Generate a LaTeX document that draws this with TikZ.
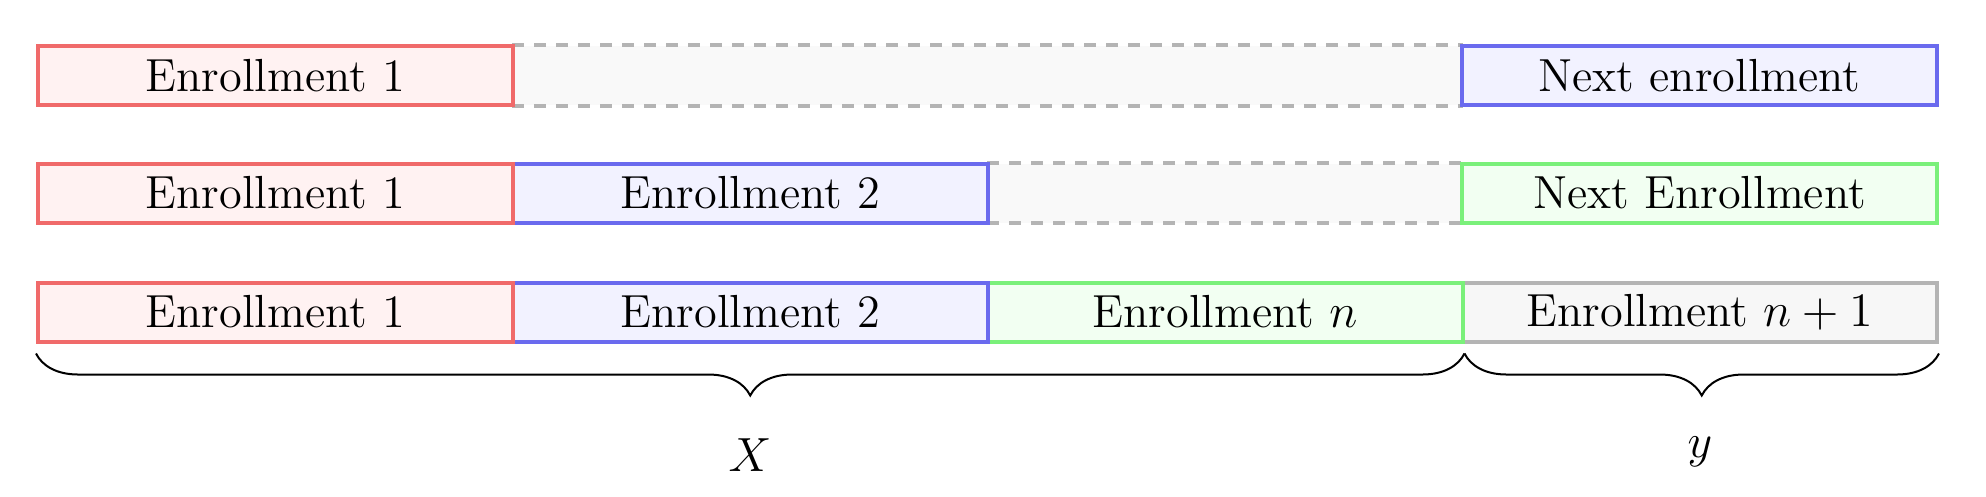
\documentclass[tikz,border=0pt]{standalone}
\usetikzlibrary{decorations.pathreplacing}
\definecolor{cred}{HTML}{F06A6A}
\definecolor{cblue}{HTML}{6A6AEE}
\definecolor{cgreen}{HTML}{7AF07A}
\definecolor{cgray}{HTML}{B4B4B4}
\begin{document}
\begin{tikzpicture}[x=0.25pt,y=-0.25pt,
  every node/.style={font=\fontsize{11.6}{14}\selectfont},
  ebox/.style={draw, line width=1pt, minimum width=118.75pt, minimum height=14.75pt, inner sep=0pt, anchor=center},
  redbox/.style={ebox, draw=cred, fill=red!5},
  bluebox/.style={ebox, draw=cblue, fill=blue!5},
  greenbox/.style={ebox, draw=cgreen, fill=green!5},
  graybox/.style={ebox, draw=cgray, fill=black!3},
  gapbox/.style={fill=black!2.5, minimum height=14.75pt, inner sep=0pt},
  gapline/.style={draw=cgray, line width=1pt, dash pattern=on 3pt off 2.5pt},
  bracestyle/.style={decorate, decoration={brace, mirror, amplitude=10.5pt}, line width=0.5pt}
]
\useasboundingbox (0,0) rectangle (1986,496);
% Row 1
\node[gapbox, minimum width=237.25pt] (gap1) at (987.5,75.5) {};
\draw[gapline] (gap1.north west) -- (gap1.north east);
\draw[gapline] (gap1.south west) -- (gap1.south east);
\node[bluebox] (r1n) at (1699.5,75.5) {Next enrollment};
\node[redbox] (r1a) at (275.5,75.5) {Enrollment 1};
% Row 2
\node[gapbox, minimum width=118.5pt] (gap2) at (1225,193) {};
\draw[gapline] (gap2.north west) -- (gap2.north east);
\draw[gapline] (gap2.south west) -- (gap2.south east);
\node[greenbox] (r2n) at (1699.5,193) {Next Enrollment};
\node[bluebox] (r2b) at (750.5,193) {Enrollment 2};
\node[redbox] (r2a) at (275.5,193) {Enrollment 1};
% Row 3
\node[graybox] (r3d) at (1699.5,312) {Enrollment $n+1$};
\node[greenbox] (r3c) at (1225,312) {Enrollment $n$};
\node[bluebox] (r3b) at (750.5,312) {Enrollment 2};
\node[redbox] (r3a) at (275.5,312) {Enrollment 1};
% Braces
\coordinate (bx1) at ([yshift=-2.5pt]r3a.south west);
\coordinate (bx2) at ([yshift=-2.5pt]r3c.south east);
\coordinate (by2) at ([yshift=-2.5pt]r3d.south east);
\draw[bracestyle] (bx1) -- (bx2);
\draw[bracestyle] (bx2) -- (by2);
\node (lx) at (750,455) {$X$};
\node (ly) at (1700,452) {$y$};
\end{tikzpicture}
\end{document}
